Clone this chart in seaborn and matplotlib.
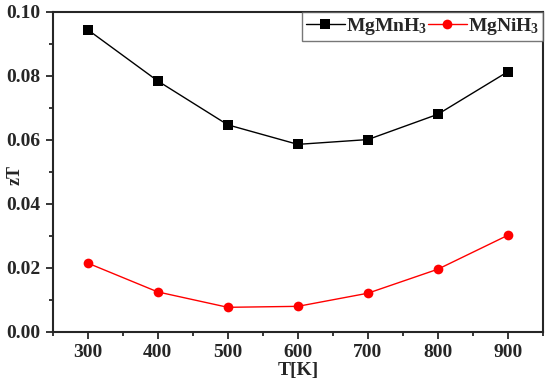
import matplotlib
matplotlib.use("Agg")
import matplotlib.pyplot as plt
import seaborn as sns
import pandas as pd
from matplotlib.ticker import MultipleLocator

T = [300, 400, 500, 600, 700, 800, 900]
zt_mn = [0.0944, 0.0784, 0.0647, 0.0586, 0.0601, 0.0680, 0.0813]
zt_ni = [0.0215, 0.0125, 0.0077, 0.0080, 0.0121, 0.0196, 0.0302]
labels = [r"MgMnH$_\mathbf{3}$", r"MgNiH$_\mathbf{3}$"]

sns.set_style("ticks")
plt.rcParams["font.family"] = ["Liberation Serif", "DejaVu Serif"]
plt.rcParams["font.weight"] = "bold"
plt.rcParams["mathtext.fontset"] = "custom"
plt.rcParams["mathtext.rm"] = "Liberation Serif:bold"
plt.rcParams["mathtext.bf"] = "Liberation Serif:bold"
plt.rcParams["mathtext.default"] = "bf"

df = pd.DataFrame({
    "T": T * 2,
    "zT": zt_mn + zt_ni,
    "s": [labels[0]] * len(T) + [labels[1]] * len(T),
})

fig = plt.figure(figsize=(5.5, 3.82), dpi=100)
ax = fig.add_axes([0.096, 0.131, 0.891, 0.838])

sns.lineplot(data=df, x="T", y="zT", hue="s", style="s",
             palette=["black", "red"], markers=["s", "o"], dashes=False,
             markersize=7, markeredgewidth=0, linewidth=1.0, ax=ax)

ax.set_xlim(250, 950)
ax.set_ylim(0, 0.10)
ax.xaxis.set_major_locator(MultipleLocator(100))
ax.xaxis.set_minor_locator(MultipleLocator(50))
ax.yaxis.set_major_locator(MultipleLocator(0.02))
ax.yaxis.set_minor_locator(MultipleLocator(0.01))
ax.yaxis.set_major_formatter(matplotlib.ticker.FormatStrFormatter("%.2f"))
ax.tick_params(which="major", direction="out", length=5, width=1.3, labelsize=14, pad=4)
ax.tick_params(which="minor", direction="out", length=3, width=1.3)
for lab in ax.get_xticklabels() + ax.get_yticklabels():
    lab.set_fontweight("bold")
for sp in ax.spines.values():
    sp.set_linewidth(1.5)
    sp.set_visible(True)

ax.set_xlabel("T[K]", fontsize=14, fontweight="bold")
ax.set_ylabel("zT", fontsize=13, fontweight="bold")
ax.xaxis.set_label_coords(0.5, -0.095)
ax.yaxis.set_label_coords(-0.06, 0.49)

leg = ax.legend(loc="upper right", ncol=2, borderaxespad=0, frameon=True,
                fancybox=False, fontsize=14, handlelength=2.0, handletextpad=0.05,
                columnspacing=0.05, borderpad=0.2, title=None, markerscale=1.0)
leg.get_frame().set_edgecolor("#555555")
leg.get_frame().set_linewidth(1.0)

fig.savefig("out.png", dpi=100)
